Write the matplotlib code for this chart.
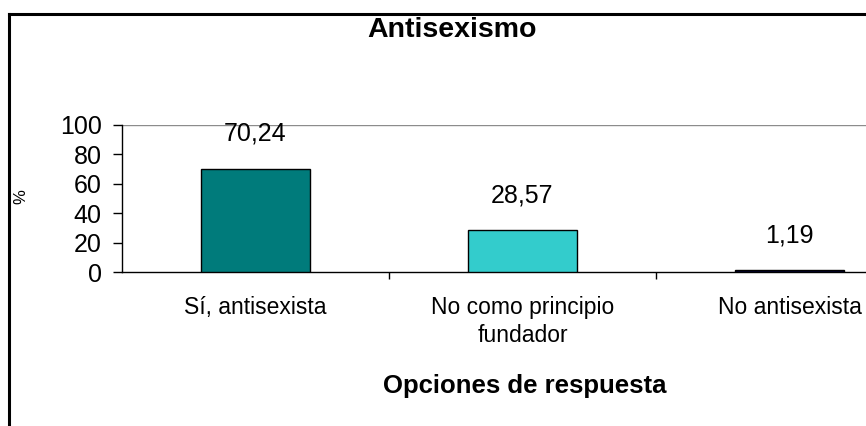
import matplotlib
matplotlib.use("Agg")
import matplotlib.pyplot as plt
from matplotlib.lines import Line2D

categories = ["Sí, antisexista", "No como principio\nfundador", "No antisexista"]
values = [70.24, 28.57, 1.19]
value_labels = ["70,24", "28,57", "1,19"]
colors = ["#007B7B", "#33CCCC", "#000033"]
yticks = [0, 20, 40, 60, 80, 100]

plt.rcParams["font.family"] = ["Liberation Sans", "DejaVu Sans"]

W, H = 866, 426
fig = plt.figure(figsize=(W / 100, H / 100), dpi=100)
fig.patch.set_facecolor("white")

# plot area: left edge at x=122, 100 at y=125, 0 at y=272; right edge runs past the figure
x0, x1 = 122, 923
ytop, ybot = 125, 272
ax = fig.add_axes([x0 / W, (H - ybot) / H, (x1 - x0) / W, (ybot - ytop) / H])

xs = list(range(len(categories)))
ax.bar(xs, values, width=0.405, color=colors, edgecolor="black", linewidth=1.0, zorder=3)
ax.set_xlim(-0.5, len(categories) - 0.5)
ax.set_ylim(0, 100)

ax.axhline(100, color="#8c8c8c", linewidth=1.0, zorder=1)

for spine in ["top", "right"]:
    ax.spines[spine].set_visible(False)
ax.spines["left"].set_linewidth(1.0)
ax.spines["bottom"].set_linewidth(1.0)

ax.set_yticks(yticks)
ax.set_yticklabels([str(v) for v in yticks], fontsize=18)
ax.tick_params(axis="y", direction="out", length=6.5, width=1.0, pad=8)

# category ticks sit between the bars
ax.set_xticks([i + 0.5 for i in xs[:-1]])
ax.set_xticklabels([])
ax.tick_params(axis="x", direction="out", length=5, width=1.0)
for i, c in enumerate(categories):
    ax.annotate(c, (i, 0), xytext=(0, -17), textcoords="offset points",
                ha="center", va="top", fontsize=16.5, linespacing=1.32)

for i, (v, lab) in enumerate(zip(values, value_labels)):
    ax.annotate(lab, (i, v), xytext=(0, 20), textcoords="offset points",
                ha="center", va="baseline", fontsize=18)

fig.text(452 / W, 1 - 37 / H, "Antisexismo", ha="center", va="baseline",
         fontsize=20.5, fontweight="bold")
fig.text(525 / W, 1 - 393 / H, "Opciones de respuesta", ha="center", va="baseline",
         fontsize=18.5, fontweight="bold")
fig.text(21 / W, 1 - 197 / H, "%", ha="center", va="center", fontsize=12, rotation=90)

# chart frame
fig.add_artist(Line2D([9 / W, 9 / W], [0, 1 - 14 / H], color="black", linewidth=2.2,
                      transform=fig.transFigure))
fig.add_artist(Line2D([9 / W, 1], [1 - 14 / H, 1 - 14 / H], color="black", linewidth=2.2,
                      transform=fig.transFigure))

fig.savefig("out.png", dpi=100)
